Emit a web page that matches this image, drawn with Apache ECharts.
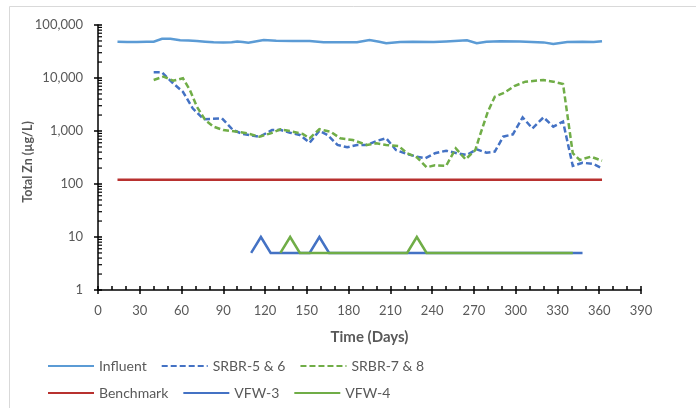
<!DOCTYPE html>
<html>
<head>
<meta charset="utf-8">
<script src="https://cdn.jsdelivr.net/npm/echarts@6/dist/echarts.min.js"></script>
<style>
html,body{margin:0;padding:0;background:#fff;}
#chart{width:696px;height:408px;}
</style>
</head>
<body>
<div id="chart"></div>
<script>
// ---- data ----
const xTicks = [0, 30, 60, 90, 120, 150, 180, 210, 240, 270, 300, 330, 360, 390];
const yTicks = [1, 10, 100, 1000, 10000, 100000];

const influentDays = [14, 21, 28, 35, 40, 46, 52, 59, 65, 71, 77, 83, 90, 96, 100, 104, 108, 112, 119, 128, 140, 152, 162, 175, 186, 195, 202, 207, 217, 226, 241, 250, 265, 272, 279, 289, 303, 320, 327, 337, 348, 356, 362];
const influentVals = [48400, 48000, 48000, 48200, 48400, 55000, 55000, 51500, 51000, 50000, 48500, 47200, 47000, 47500, 49000, 48000, 46500, 48500, 52000, 50500, 50000, 50000, 47200, 47200, 47500, 52000, 48400, 45500, 47600, 48400, 47600, 49000, 51400, 45200, 48400, 49500, 49000, 47000, 44000, 47600, 48400, 47600, 49500];

const srbr56Days = [40, 46, 54, 61, 68, 76, 82, 89, 97, 104, 116, 125, 131, 138, 145, 152, 159, 165, 172, 179, 186, 193, 200, 207, 214, 222, 229, 235, 242, 250, 258, 265, 272, 279, 285, 291, 298, 305, 312, 320, 327, 334, 341, 348, 356, 362];
const srbr56Vals = [12800, 12800, 7900, 5500, 2680, 1660, 1700, 1740, 1040, 877, 781, 1040, 1050, 929, 840, 600, 1010, 840, 545, 492, 545, 545, 648, 728, 438, 368, 328, 305, 380, 425, 380, 352, 451, 390, 407, 781, 865, 1810, 1120, 1810, 1210, 1500, 219, 252, 238, 198];

const srbr78Days = [40, 47, 54, 61, 66, 71, 77, 83, 90, 100, 107, 116, 124, 131, 140, 147, 152, 159, 167, 174, 183, 193, 200, 207, 216, 222, 229, 236, 242, 250, 257, 264, 271, 274, 280, 285, 292, 299, 307, 320, 327, 334, 341, 346, 354, 362];
const srbr78Vals = [9170, 10600, 8900, 9870, 5940, 2880, 1610, 1210, 1040, 970, 904, 781, 904, 1080, 970, 877, 728, 1080, 970, 728, 676, 545, 585, 545, 521, 380, 319, 207, 225, 219, 471, 292, 438, 781, 2310, 4440, 5290, 7060, 8530, 9170, 8530, 7700, 380, 284, 328, 275];

const benchDays = [14, 362];
const benchVals = [120, 120];

const vfw3Days = [110, 117, 124, 152, 159, 166, 348];
const vfw3Vals = [5, 10, 5, 5, 10, 5, 5];

const vfw4Days = [131, 138, 145, 222, 229, 236, 341];
const vfw4Vals = [5, 10, 5, 5, 10, 5, 5];

const yTitle = 'Total Zn (µg/L)';
const xTitle = 'Time (Days)';

// minor log ticks (2..9 per decade)
const minorTickVals = [];
for (let k = 0; k < 5; k++) for (let m = 2; m <= 9; m++) minorTickVals.push(m * Math.pow(10, k));

const pairs = (d, v) => d.map((x, i) => [x, v[i]]);

const FONT = 'Lato';
const GRAY = '#595959';

const chart = echarts.init(document.getElementById('chart'), null, {renderer: 'canvas'});

function lineSeries(name, d, v, color, dashed, z) {
  return {
    name: name, type: 'line', data: pairs(d, v), xAxisIndex: 0, yAxisIndex: 0,
    symbol: 'none', showSymbol: false, z: z, animation: false,
    lineStyle: {color: color, width: 2.5, type: dashed ? [6, 3] : 'solid', cap: 'butt', join: 'miter'},
    itemStyle: {color: color}
  };
}

const legendCommon = {
  left: 42, itemWidth: 46, itemHeight: 14, itemGap: 14, orient: 'horizontal',
  itemStyle: {opacity: 0},
  textStyle: {fontFamily: FONT, fontSize: 14, color: GRAY, width: 90},
  selectedMode: false
};

chart.setOption({
  animation: false,
  backgroundColor: '#fff',
  graphic: [{
    type: 'rect', shape: {x: 9.5, y: 6.5, width: 800, height: 800},
    style: {fill: 'none', stroke: '#d9d9d9', lineWidth: 1}, silent: true, z: -10
  }, {
    type: 'text', x: 28, y: 162, rotation: Math.PI / 2, silent: true,
    style: {text: yTitle, fill: GRAY, font: 'bold 12.5px Lato', textAlign: 'center', textVerticalAlign: 'middle'}
  }],
  grid: {left: 98, right: 55, top: 25, bottom: 118, containLabel: false},
  legend: [
    Object.assign({}, legendCommon, {top: 354, data: ['Influent', 'SRBR-5 & 6', 'SRBR-7 & 8']}),
    Object.assign({}, legendCommon, {top: 381, data: ['Benchmark', 'VFW-3', 'VFW-4']})
  ],
  xAxis: [{
    type: 'value', min: xTicks[0], max: xTicks[xTicks.length - 1], interval: 30,
    position: 'bottom',
    name: xTitle, nameLocation: 'middle', nameGap: 40,
    nameTextStyle: {fontFamily: FONT, fontSize: 15, fontWeight: 'bold', color: GRAY},
    axisLine: {show: true, lineStyle: {color: '#000', width: 1.5}},
    axisTick: {show: true, inside: false, length: 4, lineStyle: {color: '#000', width: 1.5}},
    axisLabel: {margin: 14, fontFamily: FONT, fontSize: 13, color: GRAY},
    splitLine: {show: false}
  }, {
    type: 'value', min: xTicks[0], max: xTicks[xTicks.length - 1], interval: 30,
    position: 'bottom',
    axisLine: {show: false},
    axisTick: {show: true, inside: true, length: 4, lineStyle: {color: '#000', width: 1.5}},
    minorTick: {show: true, splitNumber: 3, length: 4, lineStyle: {color: '#000', width: 1.5}},
    axisLabel: {show: false},
    splitLine: {show: false}
  }],
  yAxis: [{
    type: 'log', logBase: 10, min: yTicks[0], max: yTicks[yTicks.length - 1],
    axisLine: {show: true, lineStyle: {color: '#000', width: 1.5}},
    axisTick: {show: true, inside: false, length: 4, lineStyle: {color: '#000', width: 1.5}},
    axisLabel: {margin: 15, fontFamily: FONT, fontSize: 13, color: GRAY,
      formatter: v => Number(v).toLocaleString('en-US')},
    splitLine: {show: false}
  }, {
    type: 'log', logBase: 10, min: yTicks[0], max: yTicks[yTicks.length - 1],
    position: 'left',
    axisLine: {show: false},
    axisTick: {show: true, inside: true, length: 4, lineStyle: {color: '#000', width: 1.5}},
    axisLabel: {show: false},
    splitLine: {show: false}
  }],
  series: [
    {
      type: 'custom', name: '_minor', xAxisIndex: 0, yAxisIndex: 0, silent: true, clip: false,
      data: minorTickVals.map(v => [0, v]), z: 5,
      renderItem: function (params, api) {
        const p = api.coord([api.value(0), api.value(1)]);
        return {type: 'line', shape: {x1: p[0], y1: p[1], x2: p[0] + 4, y2: p[1]},
          style: {stroke: '#000', lineWidth: 1.2}};
      }
    },
    lineSeries('Influent', influentDays, influentVals, '#5B9BD5', false, 2),
    lineSeries('SRBR-5 & 6', srbr56Days, srbr56Vals, '#4472C4', true, 3),
    lineSeries('SRBR-7 & 8', srbr78Days, srbr78Vals, '#70AD47', true, 4),
    lineSeries('Benchmark', benchDays, benchVals, '#B8312F', false, 5),
    lineSeries('VFW-3', vfw3Days, vfw3Vals, '#4472C4', false, 6),
    lineSeries('VFW-4', vfw4Days, vfw4Vals, '#70AD47', false, 7)
  ]
});
</script>
</body>
</html>
